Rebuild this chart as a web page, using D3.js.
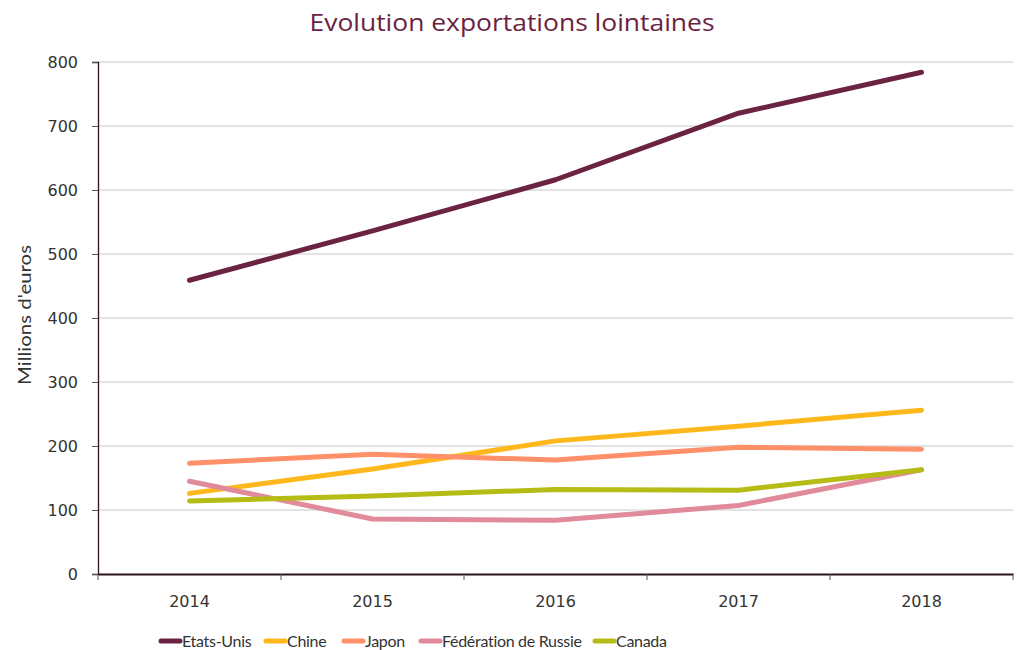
<!DOCTYPE html>
<html><head><meta charset="utf-8">
<script src="https://cdn.jsdelivr.net/npm/d3@7"></script>
<style>body{margin:0;background:#fff;} svg{display:block;font-family:"DejaVu Sans",sans-serif;}</style>
</head><body><svg id="c" width="1017" height="650"></svg>
<script>
const years = ["2014","2015","2016","2017","2018"];
const seriesNames = ["Etats-Unis","Chine","Japon","Fédération de Russie","Canada"];
const etatsUnis = [459, 536, 616, 720, 784];
const chine = [126, 164, 208, 231, 256];
const japon = [173, 187, 178, 198, 195];
const russie = [145, 86, 84, 107, 163];
const canada = [114, 122, 132, 131, 163];
const yTicks = [0,100,200,300,400,500,600,700,800];
const colors = ["#6b2341","#ffb81c","#ff906a","#e08a9a","#b6bc16"];
const values = [etatsUnis, chine, japon, russie, canada];

const svg = d3.select("#c");
const L=98, R=1013, T=62, B=574;
const x = d3.scaleBand().domain(years).range([L,R]);
const y = d3.scaleLinear().domain([0,800]).range([B,T]);

svg.append("text").attr("x",512).attr("y",31).attr("text-anchor","middle")
  .attr("font-family","'Open Sans',sans-serif").attr("font-size",24).attr("fill","#6b2341")
  .attr("textLength",405).attr("lengthAdjust","spacingAndGlyphs")
  .text("Evolution exportations lointaines");

// grid
svg.append("g").selectAll("line").data(yTicks.filter(d=>d>0)).join("line")
  .attr("x1",L).attr("x2",R).attr("y1",d=>y(d)).attr("y2",d=>y(d))
  .attr("stroke","#c8c8c8").attr("stroke-width",1);

// y axis
const ya = svg.append("g").attr("transform",`translate(${L},0)`)
  .call(d3.axisLeft(y).tickValues(yTicks).tickSize(6).tickPadding(14));
ya.select(".domain").attr("stroke","#2d1520").attr("stroke-width",1.3);
ya.selectAll(".tick line").attr("stroke","#555");
ya.selectAll("text").attr("font-size",16).attr("fill","#333").attr("font-family","'DejaVu Sans',sans-serif");

// x axis
const xa = svg.append("g").attr("transform",`translate(0,${B})`)
  .call(d3.axisBottom(x).tickSize(0).tickPadding(22));
xa.select(".domain").attr("stroke","#2d1520").attr("stroke-width",2);
xa.selectAll("text").attr("font-size",16).attr("fill","#333").attr("font-family","'DejaVu Sans',sans-serif");
const bounds = years.map(d=>x(d)).concat([R]);
xa.selectAll(".bt").data(bounds).join("line").attr("class","bt")
  .attr("x1",d=>d).attr("x2",d=>d).attr("y1",0).attr("y2",6).attr("stroke","#555");

svg.append("text").attr("transform",`translate(31,315) rotate(-90)`)
  .attr("text-anchor","middle").attr("font-size",17).attr("fill","#333")
  .attr("font-family","Lato,sans-serif").attr("textLength",140).attr("lengthAdjust","spacingAndGlyphs")
  .text("Millions d'euros");

const line = d3.line().x((d,i)=>x(years[i])+x.bandwidth()/2).y(d=>y(d));
values.forEach((v,k)=>{
  svg.append("path").attr("d",line(v)).attr("fill","none").attr("stroke",colors[k])
    .attr("stroke-width",5).attr("stroke-linecap","round").attr("stroke-linejoin","round");
});

// legend
const lx = [158,263,341,418,592];
const lg = svg.append("g");
seriesNames.forEach((n,k)=>{
  lg.append("line").attr("x1",lx[k]+3).attr("x2",lx[k]+22).attr("y1",641).attr("y2",641)
    .attr("stroke",colors[k]).attr("stroke-width",5).attr("stroke-linecap","round");
  lg.append("text").attr("x",lx[k]+24).attr("y",647).attr("font-size",16).attr("fill","#333")
    .attr("font-family","Lato,sans-serif").attr("letter-spacing",-0.3).text(n);
});
</script></body></html>
